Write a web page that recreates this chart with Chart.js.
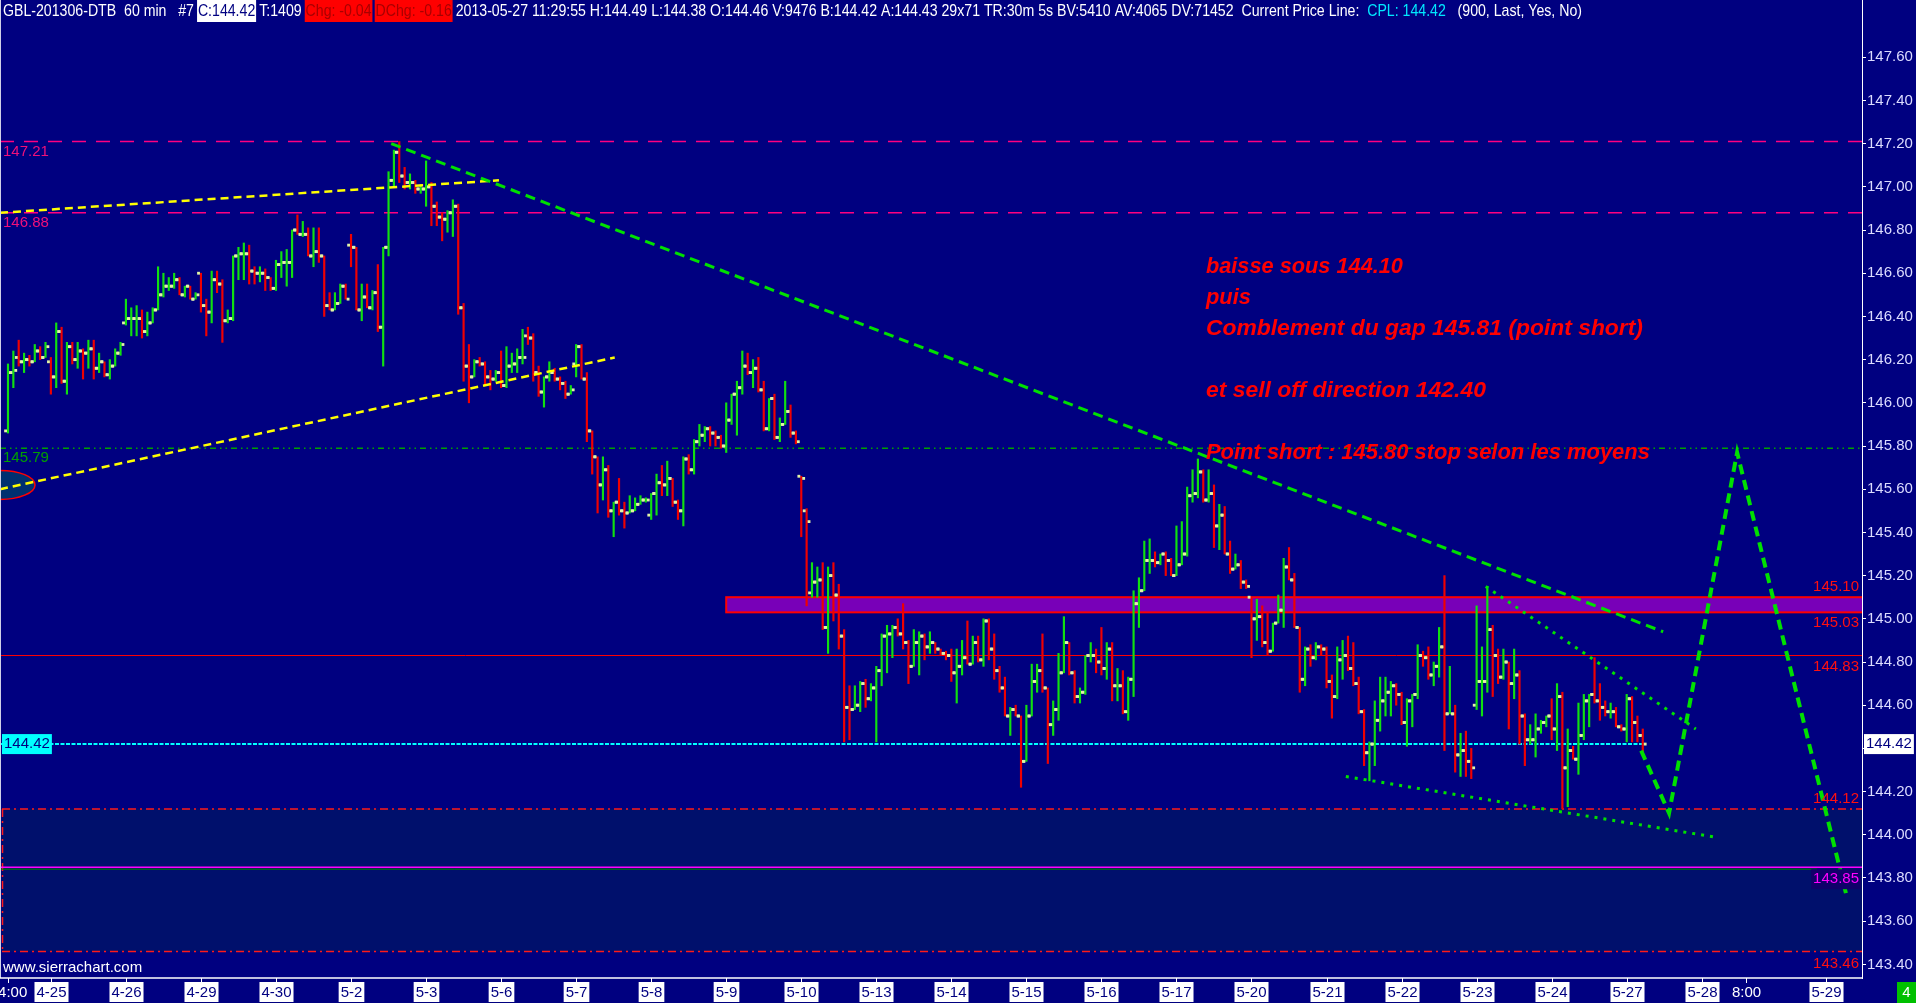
<!DOCTYPE html>
<html>
<head>
<meta charset="utf-8">
<title>GBL-201306-DTB 60 min</title>
<script src="https://cdn.jsdelivr.net/npm/chart.js@4.4.1/dist/chart.umd.min.js"></script>
<style>
  html, body { margin: 0; padding: 0; background: #000080; overflow: hidden; }
  canvas { display: block; }
</style>
</head>
<body>
<canvas id="sierraChart" width="1916" height="1003"></canvas>
<script>
// --- 60 min bars, 4-24 14:00 .. 5-27 11:00 (one line per session) ---
const barOpen = [
  145.87,146.14,146.21,146.19,146.20,146.19,146.24,146.21,
  146.19,146.12,146.33,146.10,146.26,146.20,146.24,146.23,146.25,146.16,146.19,146.13,146.17,146.23,
  146.37,146.39,146.39,146.39,146.33,146.37,146.43,146.50,146.54,146.54,146.57,146.50,146.54,146.48,
  146.60,146.45,146.42,146.57,146.55,146.38,146.39,146.68,146.69,146.69,146.61,146.60,146.60,146.58,
  146.53,146.64,146.65,146.65,146.80,146.78,146.78,146.68,146.70,146.68,146.45,146.43,146.46,146.54,
  146.73,146.72,146.43,146.49,146.44,146.51,146.35,146.72,147.03,147.16,147.05,147.02,147.02,146.99,
  146.99,147.00,146.91,146.86,146.85,146.88,146.91,146.44,146.17,146.12,146.19,146.18,146.12,146.11,
  146.14,146.08,146.17,146.18,146.21,146.31,146.30,146.14,146.05,146.12,146.14,146.11,146.09,146.04,
  146.18,146.26,146.11,145.87,145.75,145.62,145.69,145.50,145.54,145.50,145.49,145.50,145.53,145.55,
  145.48,145.58,145.63,145.62,145.65,145.54,145.50,145.74,145.69,145.82,145.85,145.88,145.86,145.84,
  145.80,145.92,146.04,146.07,146.17,146.14,146.16,146.06,145.88,146.02,145.84,145.90,145.96,145.86,
  145.66,145.50,145.12,145.17,145.18,144.96,145.20,145.11,144.92,144.59,144.58,144.60,144.70,144.63,
  144.68,144.76,144.92,144.93,144.96,144.93,144.89,144.78,144.89,144.92,144.87,144.89,144.86,144.84,
  144.83,144.75,144.78,144.82,144.79,144.89,144.81,144.99,144.86,144.76,144.68,144.55,144.58,144.55,
  144.34,144.55,144.71,144.76,144.68,144.51,144.58,144.75,144.89,144.75,144.64,144.66,144.83,144.83,
  144.80,144.77,144.86,144.69,144.69,144.57,144.72,145.07,145.13,145.27,145.27,145.26,145.30,145.27,
  145.20,145.25,145.30,145.57,145.58,145.68,145.55,145.58,145.43,145.48,145.30,145.23,145.25,145.17,
  145.10,145.00,145.01,144.89,144.85,144.98,145.04,145.24,145.18,144.96,144.72,144.86,144.82,144.87,
  144.86,144.71,144.64,144.81,144.83,144.77,144.70,144.57,144.38,144.42,144.53,144.62,144.66,144.69,
  144.65,144.52,144.62,144.65,144.83,144.82,144.74,144.78,144.87,144.56,144.56,144.37,144.39,144.34,
  144.60,144.71,144.71,144.95,144.83,144.73,144.80,144.70,144.74,144.55,144.44,144.44,144.49,144.52,
  144.55,144.49,144.64,144.31,144.39,144.35,144.46,144.62,144.65,144.62,144.59,144.57,144.57,144.50,
  144.49,144.63,144.52,144.46
];
const barHigh = [
  146.18,146.24,146.29,146.23,146.22,146.27,146.26,146.28,
  146.21,146.37,146.35,146.28,146.28,146.28,146.25,146.29,146.29,146.23,146.19,146.20,146.25,146.28,
  146.48,146.44,146.45,146.43,146.42,146.44,146.63,146.60,146.58,146.60,146.58,146.54,146.54,146.51,
  146.60,146.48,146.61,146.61,146.57,146.43,146.68,146.72,146.74,146.73,146.63,146.63,146.62,146.58,
  146.66,146.70,146.71,146.80,146.87,146.84,146.81,146.81,146.81,146.68,146.51,146.51,146.55,146.55,
  146.78,146.72,146.55,146.55,146.52,146.64,146.72,147.07,147.17,147.21,147.09,147.06,147.03,147.01,
  147.12,147.02,146.93,146.88,146.89,146.94,146.92,146.46,146.27,146.20,146.21,146.19,146.15,146.15,
  146.24,146.26,146.23,146.25,146.34,146.35,146.32,146.17,146.12,146.19,146.16,146.12,146.10,146.08,
  146.27,146.27,146.14,145.87,145.75,145.75,145.71,145.54,145.65,145.54,145.57,145.56,145.57,145.56,
  145.58,145.67,145.71,145.73,145.65,145.55,145.75,145.76,145.83,145.90,145.89,145.89,145.87,145.85,
  146.00,146.04,146.10,146.24,146.23,146.20,146.21,146.10,146.02,146.04,145.93,146.10,145.99,145.87,
  145.66,145.51,145.26,145.24,145.26,145.24,145.26,145.16,144.95,144.69,144.69,144.71,144.72,144.70,
  144.78,144.93,144.97,144.97,145.00,145.07,144.90,144.95,144.94,144.93,144.94,144.89,144.86,144.85,
  144.86,144.86,144.90,144.99,144.92,144.92,145.00,145.00,144.93,144.78,144.73,144.59,144.60,144.55,
  144.60,144.79,144.79,144.93,144.68,144.62,144.84,145.01,144.89,144.76,144.68,144.83,144.89,144.86,
  144.96,144.89,144.89,144.77,144.76,144.73,145.13,145.19,145.36,145.37,145.31,145.30,145.31,145.28,
  145.43,145.45,145.61,145.69,145.74,145.69,145.69,145.62,145.53,145.52,145.36,145.30,145.27,145.18,
  145.10,145.09,145.06,145.03,144.98,145.11,145.28,145.33,145.21,144.96,144.87,144.88,144.89,144.88,
  144.87,144.74,144.87,144.90,144.92,144.89,144.73,144.58,144.43,144.62,144.73,144.73,144.71,144.70,
  144.66,144.63,144.65,144.88,144.85,144.87,144.80,144.96,145.20,144.78,144.60,144.47,144.48,144.40,
  145.06,144.87,145.15,144.97,144.86,144.86,144.80,144.86,144.76,144.56,144.51,144.56,144.53,144.55,
  144.63,144.70,144.66,144.49,144.41,144.61,144.65,144.65,144.82,144.70,144.62,144.61,144.59,144.51,
  144.65,144.64,144.55,144.49
];
const barLow = [
  145.86,146.07,146.17,146.14,146.17,146.19,146.20,146.21,
  146.04,146.07,146.09,146.04,146.18,146.16,146.11,146.16,146.11,146.14,146.12,146.11,146.17,146.22,
  146.36,146.31,146.31,146.30,146.31,146.37,146.43,146.49,146.52,146.53,146.50,146.49,146.48,146.48,
  146.42,146.31,146.37,146.51,146.28,146.37,146.38,146.57,146.57,146.55,146.55,146.56,146.52,146.52,
  146.52,146.58,146.54,146.58,146.78,146.77,146.68,146.63,146.65,146.40,146.43,146.43,146.46,146.48,
  146.63,146.43,146.38,146.44,146.43,146.33,146.17,146.68,147.00,147.02,146.99,146.99,146.97,146.97,
  146.91,146.82,146.82,146.75,146.79,146.77,146.41,146.10,146.00,146.12,146.17,146.08,146.06,146.10,
  146.07,146.07,146.14,146.14,146.18,146.27,146.10,146.03,145.98,146.10,146.10,146.06,146.02,146.04,
  146.12,146.11,145.82,145.67,145.49,145.55,145.47,145.38,145.48,145.42,145.49,145.50,145.53,145.54,
  145.46,145.48,145.57,145.57,145.52,145.46,145.43,145.67,145.67,145.80,145.82,145.80,145.80,145.79,
  145.77,145.90,145.85,146.04,146.13,146.07,146.05,145.87,145.87,145.83,145.82,145.90,145.84,145.81,
  145.38,145.06,145.10,145.10,144.95,144.84,144.99,144.86,144.43,144.44,144.58,144.57,144.59,144.62,
  144.43,144.69,144.75,144.82,144.92,144.86,144.70,144.78,144.74,144.81,144.84,144.84,144.83,144.81,
  144.71,144.61,144.74,144.79,144.79,144.80,144.78,144.81,144.72,144.66,144.55,144.46,144.55,144.22,
  144.34,144.55,144.66,144.66,144.33,144.46,144.53,144.75,144.74,144.61,144.61,144.65,144.80,144.75,
  144.74,144.72,144.62,144.62,144.56,144.53,144.64,144.96,145.13,145.21,145.24,145.25,145.20,145.20,
  145.20,145.25,145.29,145.54,145.56,145.54,145.54,145.33,145.32,145.30,145.21,145.23,145.14,145.14,
  144.82,144.90,144.87,144.83,144.85,144.98,144.96,145.18,144.96,144.66,144.69,144.78,144.81,144.83,
  144.68,144.54,144.63,144.72,144.76,144.69,144.56,144.32,144.25,144.32,144.48,144.55,144.55,144.60,
  144.51,144.41,144.50,144.63,144.78,144.72,144.69,144.73,144.39,144.56,144.29,144.27,144.27,144.26,
  144.58,144.55,144.66,144.64,144.70,144.72,144.49,144.63,144.42,144.32,144.42,144.36,144.47,144.50,
  144.44,144.39,144.12,144.13,144.35,144.28,144.44,144.50,144.61,144.53,144.55,144.54,144.50,144.48,
  144.43,144.43,144.43,144.38
];
const barClose = [
  146.14,146.15,146.19,146.20,146.19,146.24,146.21,146.26,
  146.12,146.33,146.10,146.26,146.20,146.24,146.23,146.25,146.16,146.19,146.13,146.17,146.23,146.27,
  146.39,146.39,146.39,146.33,146.37,146.43,146.50,146.54,146.54,146.57,146.50,146.54,146.48,146.50,
  146.45,146.42,146.57,146.55,146.38,146.39,146.68,146.69,146.69,146.61,146.60,146.60,146.58,146.53,
  146.64,146.65,146.65,146.80,146.78,146.78,146.68,146.70,146.68,146.45,146.43,146.46,146.54,146.48,
  146.72,146.43,146.49,146.44,146.51,146.35,146.72,147.03,147.16,147.05,147.02,147.02,146.99,146.99,
  147.00,146.91,146.86,146.85,146.88,146.91,146.44,146.17,146.12,146.19,146.18,146.12,146.11,146.14,
  146.08,146.17,146.18,146.21,146.21,146.30,146.14,146.05,146.12,146.14,146.11,146.09,146.04,146.06,
  146.26,146.11,145.87,145.75,145.62,145.69,145.50,145.54,145.50,145.49,145.50,145.53,145.55,145.55,
  145.58,145.63,145.62,145.65,145.54,145.50,145.74,145.69,145.82,145.85,145.88,145.86,145.84,145.80,
  145.92,146.04,146.07,146.17,146.14,146.16,146.06,145.88,146.02,145.84,145.90,145.96,145.86,145.82,
  145.65,145.45,145.17,145.18,144.96,145.20,145.11,144.92,144.59,144.58,144.60,144.70,144.63,144.68,
  144.76,144.92,144.93,144.96,144.93,144.89,144.78,144.89,144.92,144.87,144.89,144.86,144.84,144.83,
  144.75,144.78,144.82,144.79,144.89,144.81,144.99,144.86,144.76,144.68,144.55,144.58,144.55,144.34,
  144.55,144.71,144.76,144.68,144.51,144.58,144.75,144.89,144.75,144.64,144.66,144.83,144.83,144.80,
  144.77,144.86,144.69,144.69,144.57,144.72,145.07,145.13,145.27,145.27,145.26,145.30,145.27,145.20,
  145.25,145.30,145.57,145.58,145.68,145.55,145.58,145.43,145.48,145.30,145.23,145.25,145.17,145.15,
  145.00,145.01,144.89,144.85,144.98,145.04,145.24,145.18,144.96,144.72,144.86,144.82,144.87,144.86,
  144.71,144.64,144.81,144.83,144.77,144.70,144.57,144.38,144.42,144.53,144.62,144.66,144.69,144.65,
  144.52,144.62,144.65,144.83,144.82,144.74,144.78,144.87,144.56,144.56,144.37,144.39,144.34,144.31,
  144.71,144.71,144.95,144.83,144.73,144.80,144.70,144.74,144.55,144.44,144.44,144.49,144.52,144.55,
  144.49,144.64,144.31,144.39,144.35,144.46,144.62,144.65,144.62,144.59,144.57,144.57,144.50,144.49,
  144.63,144.52,144.46,144.42
];

// --- axes ---
const priceTicks = [143.40, 143.60, 143.80, 144.00, 144.20, 144.40, 144.60, 144.80, 145.00, 145.20, 145.40,
                    145.60, 145.80, 146.00, 146.20, 146.40, 146.60, 146.80, 147.00, 147.20, 147.40, 147.60];
const dateTickBars = [8, 22, 36, 50, 64, 78, 92, 106, 120, 134, 148, 162, 176, 190, 204, 218, 232, 246, 260, 274, 288, 302, 316, 339.2];
const dateTickLabels = ['4-25', '4-26', '4-29', '4-30', '5-2', '5-3', '5-6', '5-7', '5-8', '5-9', '5-10', '5-13',
                        '5-14', '5-15', '5-16', '5-17', '5-20', '5-21', '5-22', '5-23', '5-24', '5-27', '5-28', '5-29'];
const timeTickBars = [0, 324.3];
const timeTickLabels = ['14:00', '8:00'];

// --- drawn levels (price) ---
const pinkLevels = [147.21, 146.88];
const gapLevel = 145.79;
const gapZone = [145.03, 145.10];
const gapZoneStartBar = 134;
const redLevel = 144.83;
const lastPrice = 144.42;
const supportZone = [143.46, 144.12];
const magentaLevel = 143.85;

// --- trend lines (bar index, price) ---
const yellowUpper = [{ x: -1.49, y: 146.88 }, { x: 91.6, y: 147.03 }];
const yellowLower = [{ x: -1.49, y: 145.60 }, { x: 113.2, y: 146.21 }];
const downTrend = [{ x: 71.5, y: 147.20 }, { x: 308.8, y: 144.94 }];
const wedgeUpper = [{ x: 275.7, y: 145.15 }, { x: 314.9, y: 144.49 }];
const wedgeLower = [{ x: 249.6, y: 144.27 }, { x: 318.3, y: 143.99 }];
const forecastPath = [{ x: 304.7, y: 144.39 }, { x: 309.9, y: 144.10 }, { x: 322.6, y: 145.77 }, { x: 342.9, y: 143.73 }];

const noteLines = ['baisse sous 144.10', 'puis', 'Comblement du gap 145.81 (point short)', '',
                   'et sell off direction 142.40', '', 'Point short : 145.80 stop selon les moyens'];
const noteWidths = [197, 45, 437, 0, 280, 0, 444];

const headerParts = [
  ['GBL-201306-DTB  60 min   #7 ', '#ffffff', null],
  ['C:144.42', '#000080', '#ffffff'],
  [' T:1409 ', '#ffffff', null],
  ['Chg: -0.04', '#a80000', '#ff0000'],
  [' ', '#ffffff', null],
  ['DChg: -0.16', '#a80000', '#ff0000'],
  [' 2013-05-27 11:29:55 H:144.49 L:144.38 O:144.46 V:9476 B:144.42 A:144.43 29x71 TR:30m 5s BV:5410 AV:4065 DV:71452  Current Price Line:  ', '#ffffff', null],
  ['CPL: 144.42', '#00e8ff', null],
  ['   (900, Last, Yes, No)', '#ffffff', null]
];

const FONT = '"Liberation Sans", Arial, sans-serif';

function hLine(ctx, x0, x1, y, color, width, dash) {
  ctx.save();
  ctx.strokeStyle = color;
  ctx.lineWidth = width;
  ctx.setLineDash(dash || []);
  ctx.beginPath();
  ctx.moveTo(x0, y);
  ctx.lineTo(x1, y);
  ctx.stroke();
  ctx.restore();
}

function label(ctx, text, x, y, color, align, bg) {
  ctx.save();
  ctx.font = `15px ${FONT}`;
  ctx.textAlign = align;
  ctx.textBaseline = 'middle';
  if (bg) {
    const w = ctx.measureText(text).width + 4;
    const left = align === 'right' ? x - w + 2 : (align === 'center' ? x - w / 2 : x - 2);
    ctx.fillStyle = bg;
    ctx.fillRect(left, y - 10, w, 20);
  }
  ctx.fillStyle = color;
  ctx.fillText(text, x, y);
  ctx.restore();
}

const backgroundPlugin = {
  id: 'navyBackground',
  beforeDraw(chart) {
    const ctx = chart.ctx;
    ctx.save();
    ctx.fillStyle = '#000080';
    ctx.fillRect(0, 0, chart.width, chart.height);
    ctx.restore();
  }
};

// zones and horizontal levels sit under the bars
const levelsPlugin = {
  id: 'levels',
  beforeDatasetsDraw(chart) {
    const { ctx, chartArea: a, scales: { x, y } } = chart;
    ctx.save();
    ctx.beginPath();
    ctx.rect(a.left, a.top, a.right - a.left, a.bottom - a.top);
    ctx.clip();

    const dashDot = [8, 4, 2, 4];
    const zTop = y.getPixelForValue(supportZone[1]);
    const zBot = y.getPixelForValue(supportZone[0]);
    ctx.fillStyle = '#00106c';
    ctx.fillRect(a.left + 2, zTop, a.right - a.left, zBot - zTop);
    hLine(ctx, a.left + 2, a.right, zTop, '#ff1a1a', 1.5, dashDot);
    hLine(ctx, a.left + 2, a.right, zBot, '#ff1a1a', 1.5, dashDot);
    ctx.save();
    ctx.strokeStyle = '#ff1a1a';
    ctx.lineWidth = 1.5;
    ctx.setLineDash(dashDot);
    ctx.beginPath();
    ctx.moveTo(a.left + 2.5, zTop);
    ctx.lineTo(a.left + 2.5, zBot);
    ctx.stroke();
    ctx.restore();

    const mY = y.getPixelForValue(magentaLevel);
    hLine(ctx, a.left, a.right, mY, '#ff00ff', 1.5);
    hLine(ctx, a.left, x.getPixelForValue(337.5), mY + 2, '#008000', 1);

    pinkLevels.forEach(p => hLine(ctx, a.left, a.right, y.getPixelForValue(p), '#ff0080', 1.5, [14, 10]));
    hLine(ctx, a.left, a.right, y.getPixelForValue(gapLevel), '#00a000', 1.5, [6, 4, 1.5, 4, 1.5, 4]);

    const gTop = y.getPixelForValue(gapZone[1]);
    const gBot = y.getPixelForValue(gapZone[0]);
    const gLeft = x.getPixelForValue(gapZoneStartBar);
    ctx.fillStyle = '#7800b8';
    ctx.fillRect(gLeft, gTop, a.right - gLeft, gBot - gTop);
    ctx.strokeStyle = '#ff0000';
    ctx.lineWidth = 2;
    ctx.strokeRect(gLeft, gTop, a.right - gLeft + 4, gBot - gTop);

    hLine(ctx, a.left, a.right, y.getPixelForValue(redLevel), '#ff0000', 1);
    hLine(ctx, a.left, x.getPixelForValue(305.5), y.getPixelForValue(lastPrice), '#00ffff', 2, [4, 1.5]);

    // small ellipse on the left border
    ctx.beginPath();
    ctx.ellipse(x.getPixelForValue(-1.49), y.getPixelForValue(145.62), 35, 14.5, 0, 0, Math.PI * 2);
    ctx.fillStyle = '#003070';
    ctx.fill();
    ctx.strokeStyle = '#ff0000';
    ctx.lineWidth = 1.5;
    ctx.stroke();
    ctx.restore();
  }
};

const overlayPlugin = {
  id: 'overlay',
  afterDraw(chart) {
    const { ctx, chartArea: a, scales: { x, y } } = chart;
    const right = a.right - 3;

    // thin left frame
    ctx.save();
    ctx.strokeStyle = '#d0d0e8';
    ctx.lineWidth = 1;
    ctx.beginPath();
    ctx.moveTo(0.5, 0);
    ctx.lineTo(0.5, a.bottom);
    ctx.stroke();
    ctx.restore();

    // level labels
    label(ctx, '147.21', 3, y.getPixelForValue(147.21) + 10, '#f0107a', 'left');
    label(ctx, '146.88', 3, y.getPixelForValue(146.88) + 10, '#f0107a', 'left');
    label(ctx, '145.79', 3, y.getPixelForValue(gapLevel) + 10, '#00a000', 'left');
    label(ctx, lastPrice.toFixed(2), 4, y.getPixelForValue(lastPrice), '#000080', 'left', '#00ffff');
    label(ctx, gapZone[1].toFixed(2), right, y.getPixelForValue(gapZone[1]) - 10, '#ff1010', 'right');
    label(ctx, gapZone[0].toFixed(2), right, y.getPixelForValue(gapZone[0]) + 11, '#ff1010', 'right');
    label(ctx, redLevel.toFixed(2), right, y.getPixelForValue(redLevel) + 11, '#ff1010', 'right');
    label(ctx, supportZone[1].toFixed(2), right, y.getPixelForValue(supportZone[1]) - 10, '#ff1010', 'right');
    label(ctx, magentaLevel.toFixed(2), right, y.getPixelForValue(magentaLevel) + 12, '#ff00ff', 'right', '#10006a');
    label(ctx, supportZone[0].toFixed(2), right, y.getPixelForValue(supportZone[0]) + 12, '#ff1010', 'right');

    // current price box on the price axis
    label(ctx, lastPrice.toFixed(2), a.right + 4, y.getPixelForValue(lastPrice), '#000080', 'left', '#ffffff');

    // time axis
    const axisY = a.bottom;
    hLine(ctx, 0, a.right, axisY, '#ffffff', 1.5);
    ctx.save();
    ctx.font = `15px ${FONT}`;
    ctx.textAlign = 'center';
    ctx.textBaseline = 'middle';
    ctx.strokeStyle = '#ffffff';
    ctx.lineWidth = 1;
    const ticks = dateTickBars.map((b, i) => [b, dateTickLabels[i], true])
      .concat(timeTickBars.map((b, i) => [b, timeTickLabels[i], false]));
    ticks.forEach(([bar, text, boxed]) => {
      const tx = Math.round(x.getPixelForValue(bar)) + 0.5;
      ctx.beginPath();
      ctx.moveTo(tx, axisY);
      ctx.lineTo(tx, axisY + 5);
      ctx.stroke();
      if (boxed) {
        const w = ctx.measureText(text).width + 4;
        ctx.fillStyle = '#ffffff';
        ctx.fillRect(tx - w / 2, axisY + 4, w, 20);
        ctx.fillStyle = '#000080';
      } else {
        ctx.fillStyle = '#ffffff';
      }
      ctx.fillText(text, tx, axisY + 14.5);
    });
    ctx.restore();

    label(ctx, 'www.sierrachart.com', 3, axisY - 10, '#ffffff', 'left');

    // green status box, bottom right
    ctx.save();
    ctx.fillStyle = '#00c000';
    ctx.fillRect(chart.width - 19, axisY + 4, 19, 21);
    ctx.fillStyle = '#ffffff';
    ctx.font = `15px ${FONT}`;
    ctx.textAlign = 'center';
    ctx.textBaseline = 'middle';
    ctx.fillText('4', chart.width - 9.5, axisY + 14.5);
    ctx.restore();

    // red comments
    ctx.save();
    ctx.font = `italic bold 22px ${FONT}`;
    ctx.fillStyle = '#ff0000';
    ctx.textBaseline = 'middle';
    const noteX = x.getPixelForValue(223.5);
    const noteY = y.getPixelForValue(146.63);
    noteLines.forEach((line, i) => {
      if (!line) return;
      const sx = noteWidths[i] / ctx.measureText(line).width;
      ctx.save();
      ctx.translate(noteX, noteY + i * 31);
      ctx.scale(sx, 1);
      ctx.fillText(line, 0, 0);
      ctx.restore();
    });
    ctx.restore();

    // header line
    ctx.save();
    ctx.font = `17px ${FONT}`;
    ctx.textBaseline = 'middle';
    const total = headerParts.reduce((s, p) => s + ctx.measureText(p[0]).width, 0);
    ctx.translate(3, 0);
    ctx.scale(1579 / total, 1);
    let cx = 0;
    headerParts.forEach(([text, fg, bg]) => {
      const w = ctx.measureText(text).width;
      if (bg) {
        ctx.fillStyle = bg;
        ctx.fillRect(cx - 1, 0, w + 2, 22);
      }
      ctx.fillStyle = fg;
      ctx.fillText(text, cx, 11);
      cx += w;
    });
    ctx.restore();
  }
};

const bars = barOpen.map((o, i) => ({ x: i, y: [barLow[i], barHigh[i]] }));
const barColors = barOpen.map((o, i) => (barClose[i] >= o ? '#10e010' : '#f00000'));

function trendSet(points, color, width, dash) {
  return {
    type: 'line', data: points, borderColor: color, borderWidth: width, borderDash: dash,
    pointRadius: 0, fill: false, tension: 0, order: 0
  };
}

new Chart(document.getElementById('sierraChart'), {
  type: 'bar',
  data: {
    datasets: [
      trendSet(forecastPath, '#00e000', 4, [10, 6]),
      trendSet(downTrend, '#00e000', 3, [10, 6]),
      trendSet(wedgeUpper, '#00e000', 3, [3, 6]),
      trendSet(wedgeLower, '#00e000', 3, [3, 6]),
      trendSet(yellowUpper, '#ffff00', 2.5, [8, 5]),
      trendSet(yellowLower, '#ffff00', 2.5, [8, 5]),
      {
        type: 'scatter', data: barOpen.map((v, i) => ({ x: i - 0.45, y: v })),
        pointStyle: 'rect', pointRadius: 2, backgroundColor: '#e2f4a6', borderWidth: 0, order: 1
      },
      {
        type: 'scatter', data: barClose.map((v, i) => ({ x: i + 0.45, y: v })),
        pointStyle: 'rect', pointRadius: 2, backgroundColor: '#e2f4a6', borderWidth: 0, order: 1
      },
      { type: 'bar', data: bars, backgroundColor: barColors, barThickness: 1.5, grouped: false, order: 2 }
    ]
  },
  options: {
    responsive: false,
    animation: false,
    devicePixelRatio: 1,
    events: [],
    layout: { autoPadding: false, padding: { left: 0, right: 0, top: 0, bottom: 25 } },
    plugins: { legend: { display: false }, tooltip: { enabled: false } },
    scales: {
      x: { type: 'linear', min: -1.49, max: 345.9, display: false, offset: false },
      y: {
        position: 'right',
        min: 143.337,
        max: 147.865,
        afterBuildTicks: (scale) => { scale.ticks = priceTicks.map(v => ({ value: v })); },
        afterFit: (scale) => { scale.width = 54; scale.paddingTop = 0; scale.paddingBottom = 0; },
        border: { display: true, color: '#ffffff', width: 1 },
        grid: { drawOnChartArea: false, drawTicks: true, tickLength: 4, color: '#ffffff' },
        ticks: {
          autoSkip: false, padding: 1, color: '#dcdcff',
          font: { family: FONT, size: 15 },
          callback: (v) => Number(v).toFixed(2)
        }
      }
    }
  },
  plugins: [backgroundPlugin, levelsPlugin, overlayPlugin]
});
</script>
</body>
</html>
